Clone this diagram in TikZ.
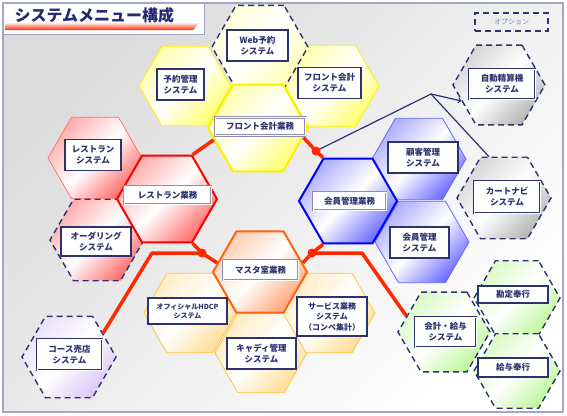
\documentclass[tikz,border=0pt]{standalone}
\usepackage{fontspec}
\newfontfamily\jp{Noto Sans CJK JP}
\usetikzlibrary{shapes.geometric}

\definecolor{navyc}{RGB}{45,50,112}
\definecolor{titlec}{RGB}{38,42,112}
\definecolor{framec}{RGB}{164,166,200}
\definecolor{redc}{RGB}{255,40,0}
\definecolor{yellowc}{RGB}{250,240,0}
\definecolor{goldc}{RGB}{255,196,70}
\definecolor{orangec}{RGB}{255,100,20}
\definecolor{violetc}{RGB}{190,160,240}
\definecolor{greenc}{RGB}{140,240,80}

\begin{document}
\begin{tikzpicture}
  [x=1pt,y=-1pt,
   hx/.style={regular polygon,regular polygon sides=6,minimum size=#1,inner sep=0pt},
   hx/.default=94pt,
   grad/.style={top color=#1!32,bottom color=#1!58,middle color=white,shading angle=45},
   syshex/.style={draw=#1,line width=0.8pt},
   bizhex/.style={draw=#1,line width=2pt},
   opthex/.style={draw=navyc,line width=1.4pt,dash pattern=on 6pt off 4pt},
   lblbase/.style={fill=white,text=navyc,align=center,inner sep=2pt,
     font=\jp\bfseries\fontsize{8.5}{11}\selectfont},
   syslbl/.style={lblbase,draw=navyc,line width=1.5pt,minimum height=31pt},
   optlbl/.style={lblbase,draw=navyc,line width=0.7pt,double=white,double distance=0.8pt,minimum height=30pt},
   bizlbl/.style={lblbase,draw=navyc!55,line width=0.7pt,double=white,double distance=0.8pt,minimum height=18pt},
   redline/.style={draw=redc,line width=3.5pt,line join=round},
   navyline/.style={draw=navyc,line width=1.2pt}]

  % frame and title
  \path[use as bounding box] (0,0) rectangle (567,415);
  \path[draw=framec,line width=1.2pt,top color=gray!28,bottom color=white,shading angle=45]
    (3,3) rectangle (563,412);
  \path[draw=framec,fill=white,line width=1pt] (3,3) rectangle (204,34);
  \shade[top color=white,bottom color=redc] (5,22) -- (200,22) -- (193,30) -- (5,30) -- cycle;
  \node[font=\jp\bfseries\fontsize{16}{16}\selectfont,text=titlec,anchor=west] (title) at (11,15) {システムメニュー構成};
  \node[opthex,line width=1.2pt,minimum width=73pt,minimum height=18pt,text=navyc!60,
    font=\jp\fontsize{7}{8}\selectfont] (legend) at (511.5,22) {オプション};

  % system hexagons
  \node[hx=92pt,syshex=yellowc,grad=yellow] (yoyaku) at (185,86) {};
  \node[hx,syshex=yellowc,grad=yellow] (frontsys) at (332,86) {};
  \node[hx,syshex=red!55,grad=red] (restsys) at (95,158) {};
  \node[hx,syshex=blue!60,grad=blue] (kokyaku) at (419,159) {};
  \node[hx,syshex=blue!60,grad=blue] (kaiinsys) at (422,242) {};
  \node[hx=92pt,syshex=goldc,grad=goldc] (hdcp) at (190,313) {};
  \node[hx=92pt,syshex=goldc,grad=goldc] (caddy) at (261,353) {};
  \node[hx=92pt,syshex=goldc,grad=goldc] (service) at (329,313) {};

  % option hexagons
  \node[hx=96pt,opthex,top color=yellow!15,bottom color=yellow!30,middle color=white,shading angle=45] (web) at (260,47) {};
  \node[hx,opthex,grad=red] (order) at (97,240) {};
  \node[hx=92pt,opthex,grad=gray] (jidou) at (499,85) {};
  \node[hx,opthex,grad=gray] (cart) at (504,198) {};
  \node[hx,opthex,grad=violetc] (course) at (69,357) {};
  \node[hx=92pt,opthex,grad=greenc] (kaikei) at (444,332) {};
  \node[hx=86pt,opthex,grad=greenc] (kanjo) at (517,298) {};
  \node[hx=86pt,opthex,grad=greenc] (kyuyo) at (517,371) {};

  % business hexagons
  \node[hx=100pt,bizhex=yellowc,grad=yellow] (fbiz) at (258,128) {};
  \node[hx=100pt,bizhex=red,grad=red] (rbiz) at (167,199) {};
  \node[hx=98pt,bizhex=blue,grad=blue] (mbiz) at (348,201) {};
  \node[hx,bizhex=orangec,grad=orangec] (master) at (260,272) {};

  % connectors
  \coordinate (d1) at (316,151);
  \coordinate (d2) at (202,253);
  \coordinate (d3) at (312,253);
  \coordinate (apex) at (431,94);
  \coordinate (bendL) at (152,253);
  \coordinate (bendR) at (362,253);
  \draw[redline] (rbiz.60) -- (fbiz.195);
  \draw[redline] (fbiz.-12) -- (d1) -- (mbiz.120);
  \draw[redline] (rbiz.-60) -- (d2) -- (master.168);
  \draw[redline] (mbiz.240) -- (d3) -- (master.12);
  \draw[redline] (d2) -- (bendL) -- (course.35);
  \draw[redline] (d3) -- (bendR) -- (kaikei.157);
  \draw[navyline] (d1) -- (apex) -- (cart.110);
  \draw[navyline,->] (apex) -- (jidou.203);
  \foreach \d in {d1,d2,d3}
    \fill[redc] (\d) circle (4.5pt);

  % labels
  \node[syslbl,minimum width=61pt] (webL) at (257.5,45.5) {Web予約\\システム};
  \node[syslbl,minimum width=47pt] (yoyakuL) at (180.5,84.5) {予約管理\\システム};
  \node[syslbl,minimum width=63pt] (frontsysL) at (329.5,83) {フロント会計\\システム};
  \node[bizlbl,minimum width=90pt] (fbizL) at (260,126.5) {フロント会計業務};
  \node[syslbl,minimum width=56pt] (restsysL) at (93,155) {レストラン\\システム};
  \node[bizlbl,minimum width=87pt] (rbizL) at (167.5,195) {レストラン業務};
  \node[syslbl,minimum width=70pt,minimum height=29pt] (orderL) at (96,241.5) {オーダリング\\システム};
  \node[bizlbl,minimum width=75pt,minimum height=20pt] (masterL) at (260.5,270) {マスタ室業務};
  \node[bizlbl,minimum width=73pt] (mbizL) at (349.5,201) {会員管理業務};
  \node[syslbl,minimum width=70pt] (kokyakuL) at (423,157.5) {顧客管理\\システム};
  \node[syslbl,minimum width=59pt] (kaiinsysL) at (419.5,242.5) {会員管理\\システム};
  \node[optlbl,minimum width=66pt] (jidouL) at (502,84) {自動精算機\\システム};
  \node[optlbl,minimum width=66pt,minimum height=32pt] (cartL) at (507,197) {カートナビ\\システム};
  \node[optlbl,minimum width=65pt,minimum height=31pt] (courseL) at (69.5,354.5) {コース売店\\システム};
  \node[syslbl,minimum width=79pt,minimum height=26pt,font=\jp\bfseries\fontsize{7}{9}\selectfont] (hdcpL) at (187.5,311) {オフィシャルHDCP\\システム};
  \node[syslbl,minimum width=69pt] (caddyL) at (261.5,353.5) {キャディ管理\\システム};
  \node[syslbl,minimum width=70pt,minimum height=39pt,font=\jp\bfseries\fontsize{8}{10.5}\selectfont] (serviceL) at (332,316.5) {サービス業務\\システム\\（コンペ集計）};
  \node[optlbl,minimum width=61pt] (kaikeiL) at (445.5,332) {会計・給与\\システム};
  \node[syslbl,minimum width=70pt,minimum height=17pt] (kanjoL) at (513,294.5) {勘定奉行};
  \node[syslbl,minimum width=70pt,minimum height=19pt] (kyuyoL) at (513,367.5) {給与奉行};
\end{tikzpicture}
\end{document}
